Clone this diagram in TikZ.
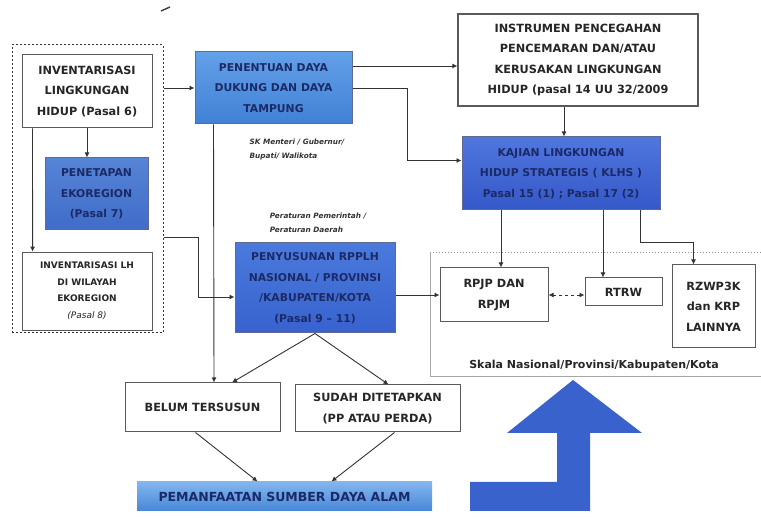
\documentclass[tikz,border=0pt]{standalone}
\usepackage{fontspec}
\setmainfont{DejaVu Sans}
\usetikzlibrary{arrows.meta,calc}
\definecolor{navy}{HTML}{1B2A66}
\definecolor{edgegray}{HTML}{5A5A5A}
\definecolor{bigarrow}{RGB}{58,98,204}
\begin{document}
\begin{tikzpicture}[x=1pt,y=-1pt,
  arr/.style={-{Latex[length=5pt,width=5pt]}, draw=black!80, line width=0.9pt},
  wbox/.style={draw=edgegray, line width=1pt, fill=white, align=center, inner sep=0pt,
    font=\fontsize{11.3}{20.5}\selectfont\bfseries, text=black!85},
  bbox/.style={draw=navy!70, line width=1pt, align=center, inner sep=0pt,
    font=\fontsize{10.8}{20.5}\selectfont\bfseries, text=navy},
  note/.style={align=left, inner sep=0pt, font=\fontsize{7.3}{14}\selectfont\itshape\bfseries, text=black!80}
]
\useasboundingbox (0,0) rectangle (761,518);
\fill[white] (0,0) rectangle (761,518);

% stray mark
\draw[line width=1.4pt, black!75] (161,11) -- (170,7);

% outer dotted group and scale region
\node[draw=black!80, line width=1pt, dash pattern=on 2pt off 2pt, inner sep=0pt,
  minimum width=151pt, minimum height=288pt] (outer) at (87.5,189) {};
\coordinate (sclTL) at (430,252);
\coordinate (sclBL) at (430,376);
\coordinate (sclTR) at (761,252);
\coordinate (sclBR) at (761,376);
\draw[black!45, line width=0.8pt, dash pattern=on 1.5pt off 1.5pt] (sclTR) -- (sclTL);
\draw[black!35, line width=0.8pt] (sclTL) -- (sclBL) -- (sclBR);
\node[font=\fontsize{11}{12}\selectfont\bfseries, text=black!85] (skala) at (594,365) {Skala Nasional/Provinsi/Kabupaten/Kota};

% boxes
\node[wbox, minimum width=130pt, minimum height=73pt] (inv) at (87,91.5)
  {INVENTARISASI\\LINGKUNGAN\\HIDUP (Pasal 6)};
\node[bbox, minimum width=103pt, minimum height=72pt,
  top color={rgb,255:red,86;green,132;blue,214}, bottom color={rgb,255:red,64;green,108;blue,200}] (pen) at (96.5,194)
  {PENETAPAN\\EKOREGION\\(Pasal 7)};
\node[wbox, line width=0.8pt, minimum width=130pt, minimum height=78pt,
  font=\fontsize{9}{16.5}\selectfont\bfseries] (invlh) at (87,291)
  {INVENTARISASI LH\\DI WILAYAH\\EKOREGION\\{\itshape\mdseries (Pasal 8)}};
\node[bbox, minimum width=157pt, minimum height=72pt,
  top color={rgb,255:red,98;green,160;blue,232}, bottom color={rgb,255:red,66;green,128;blue,214}] (ddt) at (273.5,88)
  {PENENTUAN DAYA\\DUKUNG DAN DAYA\\TAMPUNG};
\node[note] (sk) at (297,149) {SK Menteri / Gubernur/\\Bupati/ Walikota};
\node[wbox, line width=1.2pt, minimum width=240pt, minimum height=92pt] (instr) at (578,60)
  {INSTRUMEN PENCEGAHAN\\PENCEMARAN DAN/ATAU\\KERUSAKAN LINGKUNGAN\\HIDUP (pasal 14 UU 32/2009};
\node[bbox, minimum width=198pt, minimum height=73pt,
  top color={rgb,255:red,80;green,118;blue,222}, bottom color={rgb,255:red,52;green,88;blue,200}] (klhs) at (561,173.5)
  {KAJIAN LINGKUNGAN\\HIDUP STRATEGIS ( KLHS )\\Pasal 15 (1) ; Pasal 17 (2)};
\node[note] (pp) at (318,223) {Peraturan Pemerintah /\\Peraturan Daerah};
\node[bbox, minimum width=160pt, minimum height=90pt,
  top color={rgb,255:red,74;green,122;blue,220}, bottom color={rgb,255:red,56;green,98;blue,206}] (rppl) at (315,288)
  {PENYUSUNAN RPPLH\\NASIONAL / PROVINSI\\/KABUPATEN/KOTA\\(Pasal 9 -- 11)};
\node[wbox, minimum width=108pt, minimum height=54pt] (rpjp) at (494,295) {RPJP DAN\\RPJM};
\node[wbox, minimum width=77pt, minimum height=28pt] (rtrw) at (623.5,292) {RTRW};
\node[wbox, minimum width=83pt, minimum height=83pt] (rzw) at (713.5,306.5) {RZWP3K\\dan KRP\\LAINNYA};
\node[wbox, minimum width=155pt, minimum height=49pt] (belum) at (202.5,407.5) {BELUM TERSUSUN};
\node[wbox, minimum width=165pt, minimum height=47pt] (sudah) at (377.5,408.5) {SUDAH DITETAPKAN\\(PP ATAU PERDA)};
\node[bbox, draw=none, minimum width=295pt, minimum height=29pt, font=\fontsize{12.5}{14}\selectfont\bfseries,
  top color={rgb,255:red,130;green,182;blue,240}, bottom color={rgb,255:red,72;green,134;blue,214}] (pemanf) at (284.5,496.5)
  {PEMANFAATAN SUMBER DAYA ALAM};

% big blue arrow
\fill[bigarrow]
  (470,482) -- (557,482) -- (557,433) -- (507,433) -- (573,380) -- (642,433) -- (590,433) -- (590,511) -- (470,511) -- cycle;

% connectors
\draw[arr] (inv.south) -- (inv.south |- pen.north);
\draw[arr] ($(inv.south west)+(11,0)$) -- ($(invlh.north west)+(11,0)$);
\draw[arr] (outer.east |- ddt.west) -- (ddt.west);
\draw[arr] ($(ddt.east)+(0,-22)$) -- ($(instr.west)+(0,6)$);
\draw[arr] (ddt.east) -- ++(55,0) |- ($(klhs.west)+(0,-13)$);
\draw[arr] ($(instr.south)+(-14,0)$) -- ($(klhs.north)+(3,0)$);
\draw[arr] ($(klhs.south)+(-60,0)$) -- ($(rpjp.north)+(7,0)$);
\draw[arr] ($(klhs.south)+(42,0)$) -- ($(rtrw.north)+(-20.5,0)$);
\draw[arr] ($(klhs.south)+(79,0)$) -- ++(0,32) -| ($(rzw.north)+(-20,0)$);
\draw[{Latex[length=5pt,width=5pt]}-{Latex[length=5pt,width=5pt]}, draw=black!80, line width=0.9pt, dashed]
  (rpjp.east) -- (rtrw.west |- rpjp.east);
\draw[arr] (rppl.east |- rpjp.west) -- (rpjp.west);
\draw[arr] ($(outer.east)+(0,48)$) -- ++(35,0) |- ($(rppl.west)+(0,9)$);
\draw[arr] ($(ddt.south west)+(19,0)$) -- ($(belum.north west)+(89.5,0)$);
\draw[arr] (rppl.south) -- ($(belum.north)+(29.5,0)$);
\draw[arr] (rppl.south) -- ($(sudah.north)+(11,0)$);
\draw[arr] ($(belum.south)+(-7,0)$) -- ($(pemanf.north)+(-27,0)$);
\draw[arr] ($(sudah.south)+(17,0)$) -- ($(pemanf.north)+(47,0)$);
\end{tikzpicture}
\end{document}
